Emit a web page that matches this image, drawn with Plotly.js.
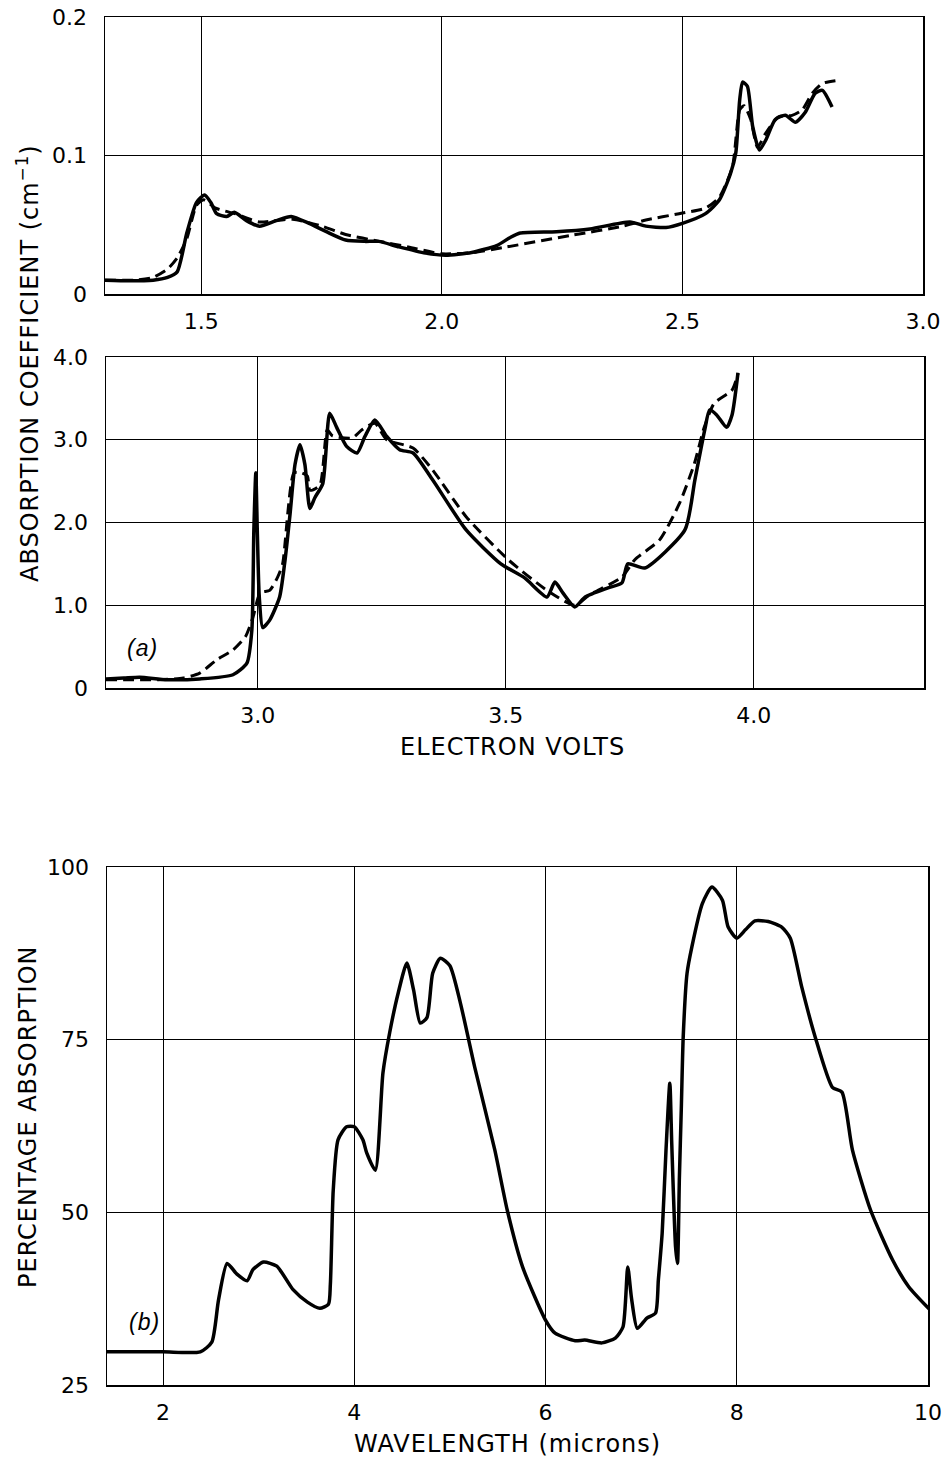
<!DOCTYPE html>
<html>
<head>
<meta charset="utf-8">
<script src="https://cdn.plot.ly/plotly-3.0.1.min.js"></script>
<style>
html,body{margin:0;padding:0;background:#fff;}
#chart{width:950px;height:1461px;}
.annotation-text{letter-spacing:1px;}
</style>
</head>
<body>
<div id="chart"></div>
<script>
// ---------- Panel (a) upper: 1.3 - 3.0 eV ----------
const topSolidX = [1.30,1.35,1.40,1.43,1.45,1.47,1.49,1.507,1.52,1.532,1.553,1.569,1.594,1.621,1.656,1.687,1.724,1.76,1.80,1.84,1.869,1.911,1.966,2.008,2.062,2.114,2.143,2.163,2.238,2.308,2.391,2.424,2.466,2.50,2.548,2.577,2.600,2.611,2.619,2.625,2.635,2.646,2.660,2.673,2.693,2.714,2.735,2.755,2.776,2.791,2.811];
const topSolidY = [0.010,0.0095,0.010,0.012,0.016,0.044,0.066,0.0715,0.066,0.058,0.056,0.059,0.053,0.049,0.053,0.056,0.051,0.045,0.039,0.038,0.038,0.034,0.0295,0.028,0.030,0.035,0.041,0.044,0.045,0.047,0.052,0.049,0.048,0.051,0.058,0.068,0.087,0.102,0.140,0.153,0.150,0.121,0.104,0.111,0.126,0.129,0.124,0.131,0.145,0.147,0.135];
const topDashX = [1.30,1.36,1.40,1.43,1.45,1.47,1.49,1.505,1.53,1.57,1.62,1.69,1.75,1.80,1.87,1.93,2.00,2.066,2.135,2.273,2.377,2.424,2.493,2.548,2.577,2.604,2.619,2.628,2.642,2.656,2.673,2.700,2.728,2.749,2.770,2.791,2.818];
const topDashY = [0.010,0.010,0.012,0.018,0.026,0.040,0.064,0.068,0.062,0.058,0.052,0.054,0.049,0.043,0.038,0.034,0.029,0.030,0.034,0.0426,0.049,0.0534,0.058,0.062,0.070,0.092,0.133,0.136,0.126,0.106,0.116,0.128,0.129,0.133,0.145,0.152,0.154];

// ---------- Panel (a) lower: 2.7 - 4.3 eV ----------
const midSolidX = [2.694,2.73,2.762,2.817,2.883,2.95,2.978,2.988,2.992,2.996,2.999,3.003,3.010,3.024,3.044,3.054,3.065,3.075,3.085,3.095,3.105,3.115,3.131,3.145,3.159,3.179,3.20,3.216,3.236,3.26,3.286,3.313,3.353,3.42,3.49,3.538,3.583,3.599,3.615,3.639,3.66,3.706,3.734,3.746,3.78,3.861,3.881,3.901,3.911,3.925,3.945,3.956,3.968];
const midSolidY = [0.11,0.12,0.13,0.10,0.11,0.16,0.30,0.70,1.9,2.6,1.9,1.1,0.73,0.82,1.10,1.5,2.1,2.7,2.94,2.7,2.17,2.3,2.47,3.32,3.15,2.92,2.84,3.04,3.24,3.04,2.88,2.84,2.51,1.91,1.5,1.33,1.10,1.28,1.15,0.98,1.10,1.21,1.27,1.5,1.45,1.91,2.51,3.12,3.36,3.3,3.15,3.3,3.81];
const midDashX = [2.694,2.80,2.85,2.883,2.917,2.95,2.975,2.99,3.005,3.024,3.04,3.05,3.073,3.088,3.10,3.105,3.125,3.14,3.15,3.19,3.21,3.236,3.26,3.313,3.353,3.42,3.505,3.583,3.639,3.67,3.734,3.76,3.81,3.85,3.88,3.90,3.92,3.956,3.968];
const midDashY = [0.10,0.10,0.12,0.18,0.34,0.46,0.62,0.85,1.15,1.18,1.34,1.5,2.6,2.6,2.56,2.39,2.45,3.12,3.05,3.02,3.12,3.2,3.0,2.9,2.63,2.07,1.55,1.18,1.0,1.13,1.34,1.55,1.79,2.23,2.71,3.15,3.44,3.6,3.8];

// ---------- Panel (b): percentage absorption vs wavelength ----------
const wavelength = [1.41,2.00,2.39,2.51,2.58,2.67,2.77,2.88,2.94,3.05,3.19,3.36,3.51,3.64,3.73,3.75,3.78,3.83,3.92,4.00,4.09,4.13,4.22,4.30,4.37,4.46,4.55,4.62,4.69,4.76,4.82,4.90,5.00,5.11,5.26,5.47,5.60,5.76,6.00,6.10,6.31,6.41,6.59,6.73,6.81,6.86,6.90,6.96,7.06,7.15,7.18,7.22,7.26,7.30,7.32,7.36,7.38,7.40,7.42,7.44,7.48,7.53,7.64,7.74,7.85,7.91,8.00,8.09,8.19,8.33,8.47,8.56,8.68,8.82,9.00,9.10,9.21,9.40,9.63,9.80,10.02];
const percentAbs = [29.8,29.8,29.8,31.2,37.3,42.6,41.1,40.1,41.7,42.8,42.2,38.8,37.0,36.1,36.7,39.6,53.2,60.5,62.4,62.4,60.5,58.6,56.1,70.2,76.0,81.8,86.1,82.2,77.4,78.2,84.6,86.8,85.7,80.3,71.0,59.0,50.3,42.1,34.4,32.5,31.4,31.5,31.1,31.8,33.4,42.1,37.5,33.2,34.7,35.4,40.2,47.0,59.0,68.7,60.0,45.0,42.6,55.0,65.0,75.4,84.6,88.4,94.7,97.1,95.2,91.3,89.7,90.9,92.2,92.1,91.3,89.7,82.6,75.4,68.1,67.4,59.0,50.3,43.1,39.2,35.9];

// tick labels
const topXTicks = [1.5,2.0,2.5,3.0], topXText = ['1.5','2.0','2.5','3.0'];
const topYTicks = [0,0.1,0.2], topYText = ['0','0.1','0.2'];
const midXTicks = [3.0,3.5,4.0], midXText = ['3.0','3.5','4.0'];
const midYTicks = [0,1,2,3,4], midYText = ['0','1.0','2.0','3.0','4.0'];
const botXTicks = [2,4,6,8,10], botXText = ['2','4','6','8','10'];
const botYTicks = [25,50,75,100], botYText = ['25','50','75','100'];

const W = 950, H = 1461;
const px = v => v / W;
const py = v => 1 - v / H;

const FONT = 'DejaVu Sans, sans-serif';
const solid = {color:'#000', width:3.5, shape:'spline', smoothing:0.6};
const dashed = {color:'#000', width:3, dash:'11px,6px', shape:'spline', smoothing:0.6};

const traces = [
  {x:topSolidX, y:topSolidY, xaxis:'x', yaxis:'y', mode:'lines', line:solid, name:'upper, solid'},
  {x:topDashX, y:topDashY, xaxis:'x', yaxis:'y', mode:'lines', line:dashed, name:'upper, dashed'},
  {x:midSolidX, y:midSolidY, xaxis:'x2', yaxis:'y2', mode:'lines', line:solid, name:'lower, solid'},
  {x:midDashX, y:midDashY, xaxis:'x2', yaxis:'y2', mode:'lines', line:dashed, name:'lower, dashed'},
  {x:wavelength, y:percentAbs, xaxis:'x3', yaxis:'y3', mode:'lines', line:solid, name:'percentage absorption'}
];

function xa(domain, range, tv, tt, anchor){
  return {domain:domain, range:range, anchor:anchor, tickvals:tv, ticktext:tt,
    showgrid:true, gridcolor:'#000', gridwidth:1, zeroline:false,
    showline:true, mirror:true, linecolor:'#000', linewidth:1.5,
    ticks:'outside', ticklen:7, tickcolor:'rgba(0,0,0,0)',
    tickfont:{family:FONT, size:22, color:'#000'}, fixedrange:true};
}
function ya(domain, range, tv, tt, anchor){
  return {domain:domain, range:range, anchor:anchor, tickvals:tv, ticktext:tt,
    showgrid:true, gridcolor:'#000', gridwidth:1, zeroline:false,
    showline:true, mirror:true, linecolor:'#000', linewidth:1.5,
    ticks:'outside', ticklen:12, tickcolor:'rgba(0,0,0,0)',
    tickfont:{family:FONT, size:22, color:'#000'}, fixedrange:true};
}

const TF = {family:'DejaVu Sans, sans-serif', size:24, color:'#000'};
const layout = {
  width:W, height:H, margin:{l:0,r:0,t:0,b:0},
  paper_bgcolor:'#fff', plot_bgcolor:'#fff', showlegend:false,
  font:{family:FONT, color:'#000'},
  xaxis: xa([px(105),px(923)], [1.3,3.0], topXTicks, topXText, 'y'),
  yaxis: ya([py(294),py(17)], [0,0.2], topYTicks, topYText, 'x'),
  xaxis2: xa([px(106),px(924)], [2.694,4.343], midXTicks, midXText, 'y2'),
  yaxis2: ya([py(688),py(357)], [0,4], midYTicks, midYText, 'x2'),
  xaxis3: xa([px(107),px(928)], [1.414,10], botXTicks, botXText, 'y3'),
  yaxis3: ya([py(1385),py(867)], [25,100], botYTicks, botYText, 'x3'),
  annotations:[
    {text:'ABSORPTION COEFFICIENT (cm<sup>−1</sup>)', xref:'paper', yref:'paper', x:px(28), y:py(363), textangle:-90,
     showarrow:false, font:TF, xanchor:'center', yanchor:'middle'},
    {text:'ELECTRON VOLTS', xref:'paper', yref:'paper', x:px(512), y:py(747), showarrow:false,
     font:TF, xanchor:'center', yanchor:'middle'},
    {text:'PERCENTAGE ABSORPTION', xref:'paper', yref:'paper', x:px(28), y:py(1117), textangle:-90,
     showarrow:false, font:TF, xanchor:'center', yanchor:'middle'},
    {text:'WAVELENGTH (microns)', xref:'paper', yref:'paper', x:px(507), y:py(1444), showarrow:false,
     font:TF, xanchor:'center', yanchor:'middle'},
    {text:'<i>(a)</i>', xref:'paper', yref:'paper', x:px(142), y:py(648), showarrow:false,
     font:{family:'Liberation Sans, Arial, sans-serif', size:23, color:'#000'}, xanchor:'center', yanchor:'middle'},
    {text:'<i>(b)</i>', xref:'paper', yref:'paper', x:px(144), y:py(1322), showarrow:false,
     font:{family:'Liberation Sans, Arial, sans-serif', size:23, color:'#000'}, xanchor:'center', yanchor:'middle'}
  ]
};

Plotly.newPlot('chart', traces, layout, {staticPlot:true, displayModeBar:false});
</script>
</body>
</html>
